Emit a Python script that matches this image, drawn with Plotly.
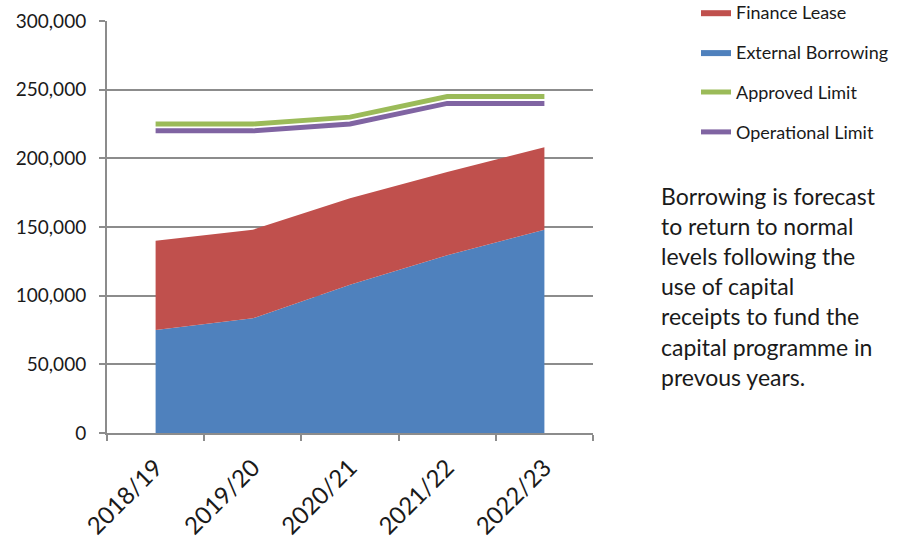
import plotly.graph_objects as go

years = ["2018/19", "2019/20", "2020/21", "2021/22", "2022/23"]
external_borrowing = [75000, 83500, 108000, 129500, 148000]
finance_lease = [65000, 64500, 63000, 60500, 60000]
approved_limit = [225000, 225000, 230000, 245000, 245000]
operational_limit = [220000, 220000, 225000, 240000, 240000]

note_lines = [
    "Borrowing is forecast",
    "to return to normal",
    "levels following the",
    "use of capital",
    "receipts to fund the",
    "capital programme in",
    "prevous years.",
]

BLUE = "#4F81BD"
RED = "#C0504D"
GREEN = "#9BBB59"
PURPLE = "#8064A2"
GRID = "#8c8c8c"
FONT = "Lato, Carlito, Calibri, sans-serif"

fig = go.Figure()
fig.add_trace(go.Scatter(
    x=years, y=external_borrowing, name="External Borrowing",
    stackgroup="s", mode="lines", line=dict(width=0, color=BLUE),
    fillcolor=BLUE, legendrank=2, legendgroup="b",
))
fig.add_trace(go.Scatter(
    x=years, y=finance_lease, name="Finance Lease",
    stackgroup="s", mode="lines", line=dict(width=0, color=RED),
    fillcolor=RED, legendrank=1, legendgroup="a",
))
fig.add_trace(go.Scatter(
    x=years, y=approved_limit, name="Approved Limit",
    mode="lines", line=dict(width=5, color=GREEN), legendrank=3, legendgroup="c",
))
fig.add_trace(go.Scatter(
    x=years, y=operational_limit, name="Operational Limit",
    mode="lines", line=dict(width=5, color=PURPLE), legendrank=4, legendgroup="d",
))

L, R, T, B = 107, 310, 21, 106
W, H = 903, 539
pw, ph = W - L - R, H - T - B


def px(x):
    return (x - L) / pw


def py(y):
    return (H - B - y) / ph


annotations = []
for i, line in enumerate(note_lines):
    annotations.append(dict(
        text=line, xref="paper", yref="paper",
        x=px(659), y=py(196 + i * 30.1), xanchor="left", yanchor="middle",
        showarrow=False, font=dict(family=FONT, size=23, color="#1a1a1a"),
    ))

fig.update_layout(
    width=W, height=H,
    margin=dict(l=L, r=R, t=T, b=B, autoexpand=False),
    paper_bgcolor="white", plot_bgcolor="white",
    font=dict(family=FONT, color="#1a1a1a"),
    showlegend=True,
    legend=dict(
        x=px(696), y=py(-6), xanchor="left", yanchor="top",
        traceorder="grouped", tracegroupgap=13.5,
        font=dict(family=FONT, size=18, color="#1a1a1a"),
        bgcolor="rgba(0,0,0,0)",
    ),
    annotations=annotations,
    xaxis=dict(
        type="category", range=[-0.5, 4.5],
        tickson="boundaries", ticks="outside", ticklen=6, tickwidth=2,
        tickcolor=GRID, showline=True, linecolor=GRID, linewidth=2,
        showgrid=False, tickangle=-45, ticklabelstandoff=9,
        tickfont=dict(family=FONT, size=24, color="#1a1a1a"),
        automargin=False,
    ),
    yaxis=dict(
        range=[0, 300000], dtick=50000, tickformat=",",
        ticks="outside", ticklen=6, tickwidth=2, tickcolor=GRID,
        showline=True, linecolor=GRID, linewidth=2,
        showgrid=True, gridcolor=GRID, gridwidth=2, zeroline=False,
        ticklabelstandoff=9, automargin=False,
        tickfont=dict(family=FONT, size=19, color="#1a1a1a"),
    ),
)

fig.write_html(
    "out.html",
    config={"displayModeBar": False},
    post_script="document.body.style.margin='0';",
)
